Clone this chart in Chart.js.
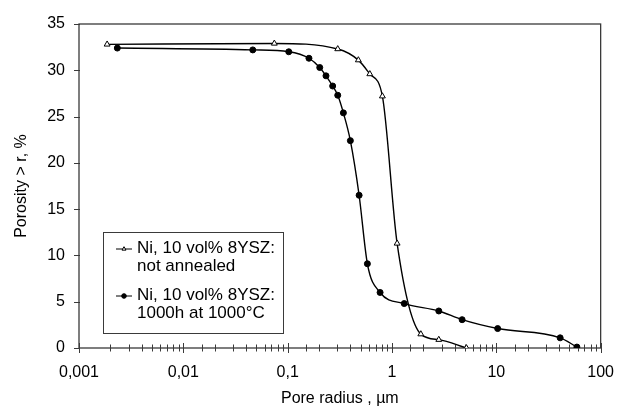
<!DOCTYPE html>
<html>
<head>
<meta charset="utf-8">
<script src="https://cdn.jsdelivr.net/npm/chart.js@4/dist/chart.umd.min.js"></script>
<style>
  html, body { margin: 0; padding: 0; background: #fff; }
  #wrap { width: 629px; height: 408px; position: relative; }
</style>
</head>
<body>
<div id="wrap"><canvas id="poreChart" width="629" height="408"></canvas></div>
<script>
// pore radius (um) and porosity > r (%)
const radiusNotAnnealed = [0.00186, 0.0745, 0.302, 0.476, 0.613, 0.809, 1.12, 1.89, 2.81, 5.17];
const porosityNotAnnealed = [32.8, 32.9, 32.3, 31.1, 29.6, 27.2, 11.3, 1.5, 0.9, 0.0];

const radiusAnnealed = [0.00233, 0.0463, 0.1025, 0.160, 0.203, 0.233, 0.270, 0.302, 0.342, 0.399,
  0.484, 0.581, 0.769, 1.31, 2.81, 4.70, 10.3, 40.9, 59.2];
const porosityAnnealed = [32.4, 32.2, 32.0, 31.3, 30.3, 29.4, 28.3, 27.3, 25.4, 22.4,
  16.5, 9.1, 6.0, 4.8, 4.0, 3.06, 2.1, 1.1, 0.1];

const seriesLabels = [
  ['Ni, 10 vol% 8YSZ:', 'not annealed'],
  ['Ni, 10 vol% 8YSZ:', '1000h at 1000°C']
];

const xMajorTicks = [0.001, 0.01, 0.1, 1, 10, 100];
const xTickLabels = ['0,001', '0,01', '0,1', '1', '10', '100'];
const yTicks = [0, 5, 10, 15, 20, 25, 30, 35];

const FONT = "'Liberation Sans', Arial, sans-serif";
const AXIS_COLOR = '#3a3a3a';

function toPoints(xs, ys) {
  return xs.map((x, i) => ({ x: x, y: ys[i] }));
}

function isMajor(v) {
  const l = Math.log10(v);
  return Math.abs(l - Math.round(l)) < 1e-9;
}

// frame plus ticks crossing the axis lines
const framePlugin = {
  id: 'frame',
  beforeDatasetsDraw(chart) {
    const { ctx, chartArea: a, scales } = chart;
    ctx.save();
    ctx.strokeStyle = AXIS_COLOR;
    ctx.lineWidth = 1.3;
    ctx.strokeRect(a.left, a.top, a.right - a.left, a.bottom - a.top);

    ctx.lineWidth = 1;
    ctx.beginPath();
    scales.x.ticks.forEach(t => {
      const px = Math.round(scales.x.getPixelForValue(t.value)) + 0.5;
      const len = isMajor(t.value) ? 5 : 3.5;
      ctx.moveTo(px, a.bottom - len);
      ctx.lineTo(px, a.bottom + len);
    });
    scales.y.ticks.forEach(t => {
      const py = Math.round(scales.y.getPixelForValue(t.value)) + 0.5;
      ctx.moveTo(a.left - 5, py);
      ctx.lineTo(a.left + 1, py);
    });
    ctx.stroke();
    ctx.restore();
  }
};

// boxed legend with two-line labels, drawn inside the plot
const boxLegendPlugin = {
  id: 'boxLegend',
  afterDatasetsDraw(chart) {
    const { ctx } = chart;
    const box = { left: 103, top: 232, right: 283, bottom: 333 };
    ctx.save();
    ctx.fillStyle = '#fff';
    ctx.fillRect(box.left, box.top, box.right - box.left, box.bottom - box.top);
    ctx.strokeStyle = AXIS_COLOR;
    ctx.lineWidth = 1;
    ctx.strokeRect(box.left + 0.5, box.top + 0.5, box.right - box.left, box.bottom - box.top);

    ctx.font = '17px ' + FONT;
    ctx.textBaseline = 'alphabetic';
    ctx.textAlign = 'left';
    chart.data.datasets.forEach((ds, i) => {
      const base = box.top + 21 + i * 47;
      const my = base - 4;
      ctx.strokeStyle = '#000';
      ctx.lineWidth = 1;
      ctx.beginPath();
      ctx.moveTo(116, my);
      ctx.lineTo(132, my);
      ctx.stroke();
      ctx.fillStyle = ds.pointBackgroundColor;
      ctx.strokeStyle = ds.pointBorderColor;
      Chart.helpers.drawPoint(ctx, {
        pointStyle: ds.pointStyle, radius: 2.3, rotation: 0, borderWidth: 1
      }, 124, my);
      ctx.fillStyle = '#000';
      seriesLabels[i].forEach((line, j) => {
        ctx.fillText(line, 137, base + j * 18);
      });
    });
    ctx.restore();
  }
};

new Chart(document.getElementById('poreChart'), {
  type: 'line',
  data: {
    datasets: [
      {
        label: seriesLabels[0].join(' '),
        data: toPoints(radiusNotAnnealed, porosityNotAnnealed),
        borderColor: '#000',
        borderWidth: 1.4,
        pointStyle: 'triangle',
        pointRadius: 3.4,
        pointBackgroundColor: '#fff',
        pointBorderColor: '#000',
        pointBorderWidth: 1,
        cubicInterpolationMode: 'monotone'
      },
      {
        label: seriesLabels[1].join(' '),
        data: toPoints(radiusAnnealed, porosityAnnealed),
        borderColor: '#000',
        borderWidth: 1.4,
        pointStyle: 'circle',
        pointRadius: 3,
        pointBackgroundColor: '#000',
        pointBorderColor: '#000',
        pointBorderWidth: 1,
        cubicInterpolationMode: 'monotone'
      }
    ]
  },
  options: {
    responsive: false,
    animation: false,
    layout: { padding: { top: 24, right: 27, left: 0, bottom: 0 } },
    plugins: {
      legend: { display: false },
      tooltip: { enabled: false }
    },
    scales: {
      x: {
        type: 'logarithmic',
        min: 0.001,
        max: 100,
        grid: { display: false, drawTicks: false },
        border: { display: false },
        ticks: {
          autoSkip: false,
          maxRotation: 0,
          padding: 15,
          color: '#000',
          font: { family: FONT, size: 16 },
          callback: v => {
            const i = xMajorTicks.findIndex(m => Math.abs(m - v) / m < 1e-6);
            return i >= 0 ? xTickLabels[i] : '';
          }
        },
        title: {
          display: true,
          text: 'Pore radius , µm',
          color: '#000',
          font: { family: FONT, size: 16 },
          padding: { top: 0, bottom: 0 }
        },
        afterFit: s => { s.height = 60; }
      },
      y: {
        min: 0,
        max: 35,
        grid: { display: false, drawTicks: false },
        border: { display: false },
        afterBuildTicks: s => { s.ticks = yTicks.map(v => ({ value: v })); },
        ticks: {
          padding: 14,
          color: '#000',
          font: { family: FONT, size: 16 }
        },
        title: {
          display: true,
          text: 'Porosity > r, %',
          color: '#000',
          font: { family: FONT, size: 16 },
          padding: { top: 12, bottom: 0 }
        },
        afterFit: s => { s.width = 79; }
      }
    }
  },
  plugins: [framePlugin, boxLegendPlugin]
});
</script>
</body>
</html>
